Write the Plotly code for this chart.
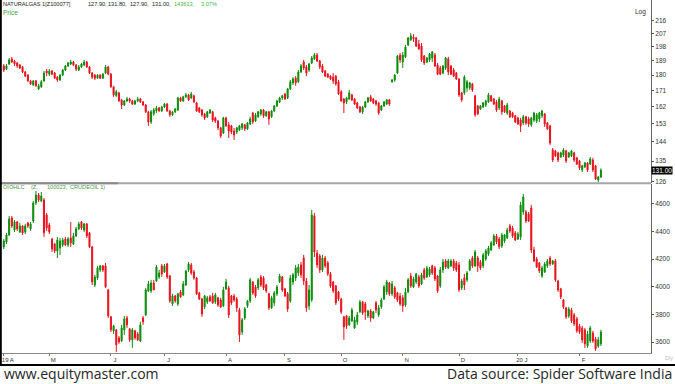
import numpy as np
import pandas as pd
import plotly.graph_objects as go

# ---------------- data ----------------
ng_open = [185.6,183.7,186.8,190.0,188.7,187.5,186.2,185.0,181.9,180.0,
176.5,174.2,176.5,171.9,173.1,176.5,182.5,180.6,182.5,181.3,
178.8,177.1,180.0,183.1,185.6,186.8,188.1,186.2,183.1,185.0,
186.2,188.1,185.0,181.3,180.0,178.2,180.0,178.2,181.3,185.0,
180.6,173.1,168.0,169.6,165.7,162.9,165.1,166.2,165.1,163.4,
165.1,166.2,164.6,162.9,159.2,153.9,158.1,159.7,161.3,159.7,
161.8,163.4,159.7,157.6,159.2,160.2,166.8,165.1,167.4,168.5,
166.8,168.0,164.0,161.3,160.2,158.1,156.6,158.6,159.2,156.0,
154.4,150.9,148.3,156.0,152.4,151.9,149.3,148.8,149.8,150.9,
152.4,150.4,152.9,158.6,154.4,156.6,158.1,160.2,157.1,159.2,
156.6,159.7,162.4,164.6,166.8,169.0,166.8,171.9,175.4,178.2,
176.0,181.9,188.1,185.0,183.1,187.5,190.0,192.5,188.7,185.6,
182.5,180.6,179.4,178.8,179.4,176.0,170.2,166.2,164.6,166.2,
168.5,166.2,164.0,161.8,159.2,161.8,164.6,167.4,166.2,165.1,
164.0,160.2,162.4,163.4,165.7,176.0,177.1,181.3,192.5,188.1,
191.3,199.1,202.5,204.5,203.8,199.8,198.4,191.9,188.1,189.4,
190.6,192.5,186.2,184.4,181.3,184.4,190.0,185.6,183.1,181.3,
177.7,169.6,169.6,172.5,172.5,174.8,168.0,162.4,160.7,161.8,
162.9,164.6,168.0,166.2,164.6,161.3,165.1,162.4,158.6,159.7,
158.6,157.1,156.0,154.9,153.4,156.6,155.5,152.4,154.9,154.4,
155.5,157.1,158.1,153.4,151.9,140.2,139.7,138.8,136.9,137.8,
139.7,136.9,137.4,138.8,136.5,135.1,131.1,132.4,134.2,133.7,
135.5,132.9,126.8,127.9]
ng_high = [186.8,186.8,190.6,191.3,189.4,188.1,186.8,185.6,182.5,180.6,
177.1,177.1,177.1,174.8,177.1,182.5,183.7,183.7,183.1,181.9,
179.4,180.6,183.7,186.2,188.1,189.4,188.7,186.8,186.2,187.5,
189.4,188.7,185.6,181.9,180.6,180.6,180.6,181.3,186.2,185.6,
181.3,173.7,171.3,170.2,166.2,165.7,167.4,166.8,165.7,165.7,
167.4,166.8,165.1,163.4,159.7,160.2,161.3,162.4,161.8,162.4,
164.0,164.0,160.2,159.7,161.3,167.4,167.4,168.0,169.6,169.0,
170.2,168.5,164.6,161.8,160.7,158.6,159.7,160.7,159.7,156.6,
154.9,151.4,156.6,156.6,153.9,152.4,150.9,151.4,152.4,153.4,
152.9,153.9,156.6,159.2,158.6,159.7,160.7,160.7,159.7,159.7,
160.2,162.9,165.7,167.4,168.5,169.6,172.5,177.1,178.8,179.4,
183.1,186.8,189.4,186.2,187.5,191.9,193.8,193.8,189.4,186.8,
183.1,181.3,180.0,181.3,180.0,177.1,171.3,166.8,167.4,171.3,
169.0,166.8,164.6,162.4,162.4,165.1,167.4,168.5,166.8,165.7,
164.6,162.9,165.1,166.2,166.2,177.7,180.6,192.5,193.8,194.5,
199.1,204.5,207.2,206.5,204.5,202.5,200.4,192.5,191.3,193.8,
195.1,193.8,187.5,185.6,186.2,191.3,191.3,186.2,184.4,181.9,
178.2,170.2,180.0,177.1,176.0,175.4,168.5,162.9,162.9,164.6,
165.7,169.6,168.5,166.8,165.7,167.4,165.7,162.9,164.0,160.2,
159.2,157.6,156.6,156.0,157.6,157.1,156.6,156.6,159.2,158.6,
159.2,160.2,158.6,153.9,152.4,141.1,140.2,139.3,139.3,141.1,
140.2,139.3,140.2,139.3,136.9,135.5,133.3,134.6,134.6,136.9,
136.5,133.3,128.5,131.8]
ng_low = [181.9,183.1,186.2,187.5,185.6,184.4,183.7,181.3,178.8,176.0,
174.2,173.7,173.1,171.3,172.5,176.0,179.4,179.4,180.0,177.7,
176.0,176.5,179.4,182.5,185.0,186.2,185.6,182.5,182.5,184.4,
185.6,184.4,180.6,177.7,177.1,177.7,177.7,177.7,180.6,180.0,
172.5,167.4,167.4,164.6,160.7,162.4,164.6,164.0,162.9,162.9,
164.6,164.0,162.4,158.6,151.9,152.9,157.1,158.6,159.2,159.2,
161.3,159.2,156.6,157.1,158.6,159.7,164.6,164.6,166.8,165.1,
166.2,164.0,159.2,158.6,156.6,154.9,156.0,158.1,153.9,153.4,
149.8,145.9,147.8,151.4,145.9,147.8,144.9,147.8,149.3,149.8,
149.3,149.8,152.4,152.9,153.9,156.0,157.1,156.0,156.6,152.4,
156.0,159.2,161.8,164.0,165.7,165.7,166.2,171.3,174.2,173.7,
175.4,181.3,183.1,179.4,181.9,186.8,189.4,188.1,183.7,181.3,
178.8,178.2,177.1,174.8,173.7,168.5,164.6,158.6,163.4,165.7,
165.1,162.9,160.7,158.6,158.1,161.3,164.0,164.6,163.4,162.4,
157.6,159.7,161.8,162.9,162.4,175.4,176.0,180.6,187.5,184.4,
190.6,198.4,201.8,201.1,197.8,195.8,188.1,186.2,187.5,188.1,
188.1,185.0,180.0,180.0,180.6,183.1,180.0,180.0,178.8,177.1,
167.4,164.6,168.5,170.2,171.3,170.2,156.6,157.6,160.2,161.3,
161.8,164.0,164.6,162.9,159.2,160.2,157.6,158.6,157.6,156.0,
156.0,153.4,152.4,148.8,152.4,152.4,151.4,151.4,153.9,153.4,
153.9,156.0,151.4,149.8,142.5,134.6,136.9,134.6,136.5,136.9,
134.2,136.5,136.9,134.6,133.3,131.1,130.2,132.0,130.2,133.3,
130.2,126.8,125.9,127.9]
ng_close = [183.1,185.6,189.4,188.1,186.8,185.6,184.4,181.9,179.4,176.5,
174.8,176.5,173.7,173.7,176.0,181.3,181.3,182.5,180.6,178.2,
177.1,180.0,183.1,185.6,187.5,188.1,186.2,183.7,185.0,186.8,
188.1,185.0,181.3,178.8,178.2,180.0,178.2,180.6,185.0,180.6,
173.1,168.5,170.2,165.1,162.9,165.1,166.2,165.1,163.4,165.1,
166.2,164.6,162.9,159.2,153.9,159.2,160.2,161.3,159.7,161.8,
163.4,159.7,157.6,159.2,160.7,166.8,165.1,167.4,168.5,165.7,
169.0,164.6,159.7,159.2,157.6,156.0,159.2,160.2,154.9,154.4,
150.9,146.8,156.0,151.9,149.3,148.8,147.3,150.9,151.9,152.9,
150.4,153.4,155.5,153.9,157.6,159.2,160.2,157.1,159.2,155.5,
159.7,162.4,165.1,166.8,168.0,166.2,171.9,176.0,177.7,175.4,
181.9,185.6,184.4,181.3,186.8,190.6,192.5,188.7,185.0,181.9,
179.4,178.8,177.7,176.5,174.8,169.0,165.1,164.0,166.8,169.6,
165.7,163.4,161.3,159.2,161.8,164.6,166.8,165.1,164.0,163.4,
158.6,162.4,164.6,165.7,163.4,177.1,180.0,191.9,189.4,192.5,
197.8,203.8,205.2,203.2,198.4,196.5,189.4,187.5,190.6,193.1,
194.5,185.6,180.6,180.6,185.6,190.6,181.9,180.6,179.4,177.7,
168.5,165.7,178.8,176.0,175.4,171.3,157.6,158.1,162.4,164.0,
165.1,168.5,165.1,163.4,160.2,166.2,159.2,159.2,162.9,156.6,
156.6,153.9,152.9,151.9,156.6,153.4,152.9,156.0,158.6,157.6,
158.6,159.7,152.9,150.4,143.4,135.5,137.4,135.5,138.8,140.2,
135.1,138.8,139.7,135.5,133.7,132.0,132.9,134.2,131.1,136.0,
131.1,127.2,128.0,131.0]

crude_open = [4288,4324,4374,4497,4410,4468,4396,4439,4396,4461,
4418,4475,4605,4663,4620,4627,4519,4446,4345,4309,
4259,4280,4302,4345,4302,4353,4309,4367,4418,4468,
4410,4454,4389,4288,4013,4064,4122,4151,4151,3977,
3783,3682,3689,3631,3609,3689,3775,3696,3617,3682,
3660,3609,3775,3797,3970,3970,4028,4042,4071,4151,
4107,4165,4078,3876,3934,3876,3963,3941,4013,4122,
4158,4107,4064,3956,3912,3855,3891,3927,3934,3891,
3920,3905,3862,3985,3992,3934,3934,3912,3833,3674,
3775,3862,3898,4035,3999,3992,4071,4064,4013,3949,
3848,3884,3949,4035,4071,3985,3949,3898,4035,4064,
4100,4158,4208,4042,3862,3905,4511,4244,4223,4122,
4208,4172,4093,4035,4006,3963,3912,3783,3790,3725,
3754,3703,3747,3819,3891,3876,3790,3826,3775,3884,
3797,3855,3912,3963,4028,3949,3992,3956,3934,3920,
3869,3963,4078,3999,4035,4071,4021,4122,4071,4086,
4151,4136,4078,4006,4122,4187,4136,4151,4187,4172,
4158,3992,4064,4050,4122,4208,4151,4208,4179,4151,
4201,4237,4266,4302,4367,4345,4295,4331,4353,4439,
4425,4389,4345,4360,4540,4540,4526,4569,4266,4201,
4172,4078,4107,4151,4208,4165,4187,4042,3985,3905,
3848,3790,3833,3797,3768,3718,3703,3689,3573,3609,
3667,3624,3573,3588]
crude_high = [4345,4389,4511,4511,4482,4475,4461,4446,4454,4468,
4468,4620,4692,4677,4684,4641,4533,4461,4353,4317,
4360,4353,4353,4360,4360,4468,4389,4432,4468,4475,
4461,4461,4396,4295,4086,4151,4158,4158,4172,3985,
3790,3725,3696,3645,3725,3790,3790,3703,3703,3689,
3674,3747,3790,3992,4042,4050,4050,4158,4122,4165,
4165,4172,4086,3949,3941,3956,3977,4042,4122,4179,
4172,4122,4071,3963,3920,3941,3934,3941,3956,3956,
3927,3920,3999,4057,4006,3941,3949,3927,3848,3775,
3855,3905,4064,4042,4013,4064,4086,4078,4021,3956,
3934,3970,4013,4093,4078,3992,3963,4086,4100,4158,
4165,4179,4230,4064,4013,4555,4533,4266,4237,4230,
4223,4187,4107,4042,4013,3970,3920,3790,3797,3790,
3848,3783,3819,3905,3898,3891,3833,3840,3826,3898,
3869,3920,4013,4050,4035,4042,4006,3963,3956,3941,
3992,4064,4100,4071,4100,4086,4100,4136,4151,4143,
4158,4151,4086,4143,4201,4201,4201,4201,4201,4187,
4179,4057,4093,4114,4201,4223,4266,4223,4194,4244,
4273,4295,4331,4381,4381,4360,4389,4381,4425,4454,
4439,4403,4396,4612,4670,4555,4540,4591,4288,4215,
4179,4151,4179,4201,4223,4194,4201,4050,3992,3912,
3855,3855,3848,3811,3783,3732,3718,3703,3682,3718,
3682,3638,3638,3689]
crude_low = [4273,4309,4367,4425,4396,4403,4389,4374,4381,4425,
4403,4461,4591,4612,4612,4360,4403,4381,4252,4244,
4208,4230,4288,4295,4288,4288,4302,4360,4410,4410,
4396,4353,4280,4013,3999,4050,4107,4107,3992,3775,
3674,3660,3530,3588,3602,3653,3703,3602,3559,3617,
3609,3602,3725,3790,3963,3956,3977,4035,4057,4071,
4100,4057,3884,3862,3884,3862,3920,3934,4006,4107,
4086,4050,3941,3905,3783,3840,3876,3891,3876,3876,
3855,3848,3855,3977,3775,3869,3891,3819,3602,3653,
3761,3848,3884,3941,3920,3977,3999,3977,3956,3833,
3840,3862,3934,4028,3963,3927,3819,3884,4013,4042,
4078,4064,4013,3819,3833,3891,4215,4136,4100,4107,
4136,4078,3992,3956,3869,3898,3804,3617,3696,3718,
3747,3696,3725,3811,3797,3761,3775,3747,3768,3811,
3783,3840,3905,3941,3934,3934,3912,3891,3862,3819,
3855,3956,3992,3992,4021,3992,4013,4050,4064,4071,
4086,4042,3956,3992,4100,4129,4129,4143,4114,4107,
3963,3977,3977,4035,4114,4136,4143,4107,4122,4136,
4187,4223,4259,4295,4309,4273,4280,4317,4345,4389,
4353,4331,4338,4338,4519,4461,4468,4244,4179,4136,
4100,4064,4100,4136,4151,4158,4035,3963,3912,3840,
3768,3775,3739,3718,3667,3660,3595,3559,3559,3595,
3595,3537,3559,3573]
crude_close = [4331,4374,4490,4439,4468,4418,4439,4389,4439,4439,
4454,4605,4663,4627,4656,4389,4425,4396,4273,4259,
4338,4331,4338,4302,4345,4317,4367,4418,4454,4425,
4454,4367,4288,4035,4071,4136,4151,4122,3999,3790,
3689,3718,3581,3602,3703,3768,3725,3617,3689,3631,
3617,3725,3747,3977,4021,4028,3977,4143,4100,4093,
4151,4071,3898,3934,3898,3949,3927,4021,4114,4165,
4100,4064,3949,3912,3804,3934,3920,3898,3884,3941,
3869,3855,3977,4035,3797,3884,3905,3848,3653,3761,
3840,3898,4050,3956,3934,4050,4013,3992,3970,3848,
3920,3956,3999,4078,3977,3934,3840,4064,4086,4136,
4143,4086,4042,3848,3977,4519,4252,4158,4122,4208,
4151,4093,4006,3970,3884,3912,3819,3710,3718,3775,
3833,3761,3797,3891,3811,3819,3826,3775,3819,3833,
3848,3905,3999,4035,3949,4021,3927,3905,3876,3862,
3963,4050,4006,4057,4093,4006,4086,4064,4136,4129,
4100,4057,3970,4122,4179,4143,4187,4187,4136,4122,
3977,4042,4013,4100,4187,4151,4252,4151,4136,4230,
4259,4280,4317,4367,4324,4288,4374,4374,4410,4403,
4367,4338,4381,4591,4648,4475,4475,4266,4187,4143,
4114,4136,4165,4187,4165,4187,4050,3977,3927,3855,
3783,3840,3754,3732,3682,3674,3617,3588,3660,3703,
3609,3552,3617,3674]

month_labels = ["19 A", "M", "J", "J", "A", "S", "O", "N", "D", "20 J", "F"]
price_ticks = [126, 135, 144, 153, 162, 171, 180, 189, 198, 207, 216]
crude_ticks = [3600, 3800, 4000, 4200, 4400, 4600]
header_values = ["127.90,", "131.80,", "127.90,", "131.00,"]
header_green = ["143613,", "3.07%"]
last_price = 131.00

# ---------------- figure ----------------
N = len(ng_close)
dates = pd.bdate_range("2019-04-08", periods=N)
x = np.arange(N)
tick_idx = [0] + [i for i in range(1, N) if dates[i].month != dates[i - 1].month]

GREEN = "#0a8c0a"
RED = "#e8121c"
W, H = 675, 384
ML, MR, MT, MB = 0, 24, 0, 20
PW, PH = W - ML - MR, H - MT - MB


def xp(px):
    return (px - ML) / PW


def yp(py):
    return (H - MB - py) / PH


def candle(o, h, l, c, xa, ya):
    return go.Candlestick(
        x=x, open=o, high=h, low=l, close=c, xaxis=xa, yaxis=ya,
        increasing=dict(line=dict(color=GREEN, width=1), fillcolor=GREEN),
        decreasing=dict(line=dict(color=RED, width=1), fillcolor=RED),
        whiskerwidth=0, hoverinfo="skip", showlegend=False)


fig = go.Figure()
fig.add_trace(candle(ng_open, ng_high, ng_low, ng_close, "x", "y"))
fig.add_trace(candle(crude_open, crude_high, crude_low, crude_close, "x2", "y2"))

xr = [-1.42, N - 1 + 18.7]
tickfont = dict(family="Liberation Sans", size=6.5, color="#333333")
xtickfont = dict(family="Liberation Sans", size=6, color="#333333")

fig.update_layout(
    width=W, height=H,
    margin=dict(l=ML, r=MR, t=MT, b=MB),
    paper_bgcolor="white", plot_bgcolor="white",
    hovermode=False, boxgap=0.45,
    xaxis=dict(domain=[0, 1], anchor="y", range=xr, showticklabels=False,
               ticks="", showgrid=False, zeroline=False,
               rangeslider=dict(visible=False)),
    xaxis2=dict(domain=[0, 1], anchor="y2", range=xr, matches="x",
                tickvals=tick_idx, ticktext=month_labels, tickfont=xtickfont,
                ticks="outside", ticklen=2, tickcolor="#777777",
                ticklabelshift=4, ticklabelstandoff=-1,
                showline=True, linecolor="#888888",
                linewidth=1, showgrid=False, zeroline=False,
                rangeslider=dict(visible=False)),
    yaxis=dict(domain=[yp(182.5), 1], anchor="x", side="right", type="log",
               range=[np.log10(125.7), np.log10(231.4)],
               tickvals=price_ticks, ticktext=[str(v) for v in price_ticks],
               tickfont=tickfont, ticks="outside", ticklen=2,
               tickcolor="#555555", showline=True, linecolor="#666666",
               showgrid=False, zeroline=False),
    yaxis2=dict(domain=[yp(353), yp(184)], anchor="x2", side="right",
                range=[3522, 4742], tickvals=crude_ticks,
                ticktext=[str(v) for v in crude_ticks],
                tickfont=tickfont, ticks="outside", ticklen=2,
                tickcolor="#555555", showline=True, linecolor="#666666",
                showgrid=False, zeroline=False),
)

shapes = [
    dict(type="line", xref="paper", yref="paper", x0=xp(0), x1=xp(651),
         y0=yp(183.2), y1=yp(183.2), line=dict(color="#a6a6a6", width=2)),
    dict(type="line", xref="paper", yref="paper", x0=xp(0), x1=xp(118),
         y0=yp(183.2), y1=yp(183.2), line=dict(color="#8a8a8a", width=2)),
    dict(type="line", xref="paper", yref="paper", x0=xp(0), x1=xp(W),
         y0=yp(365), y1=yp(365), line=dict(color="black", width=2)),
    dict(type="line", xref="paper", yref="paper", x0=xp(0.8), x1=xp(0.8),
         y0=yp(0), y1=yp(365), line=dict(color="black", width=2)),
]
fig.update_layout(shapes=shapes)

ann = []


def txt(s, px, py, color="#222222", size=5.6, anchor="left", family="Liberation Sans", **kw):
    ann.append(dict(text=s, x=xp(px), y=yp(py), xref="paper", yref="paper",
                    xanchor=anchor, yanchor="middle", showarrow=False,
                    font=dict(family=family, size=size, color=color), **kw))


txt("NATURALGAS 1[Z100077]", 1, 4.5)
for s, px in zip(header_values, [86, 106, 128, 150]):
    txt(s, px, 4.5)
for s, px in zip(header_green, [172, 199]):
    txt(s, px, 4.5, color="#3cb83c")
txt("Price", 1, 13, color="#3c9c3c", size=6.5)
txt("Log", 633, 12, color="#333333", size=6.5)
for s, px in zip(["OIOHLC", "(Z,", "100023,", "CRUDEOIL 1)"], [1, 29, 45, 68]):
    txt(s, px, 187.5, color="#4a9a4a", size=5.6)
txt("Dly", 663, 358, color="#bbbbbb", size=5.5)
ann.append(dict(text=f"{last_price:.2f}", x=xp(651), y=np.log10(last_price),
                xref="paper", yref="y", xanchor="left", yanchor="middle",
                showarrow=False, bgcolor="black", borderpad=0,
                font=dict(family="Liberation Sans", size=6.5, color="white")))
txt("www.equitymaster.com", 3, 374, color="#262626", size=14, family="Open Sans",
    borderpad=0)
txt("Data source: Spider Software India", 673, 374, color="#262626", size=14,
    anchor="right", family="Open Sans", borderpad=0)
fig.update_layout(annotations=ann)

fig.write_html("out.html", config={"displayModeBar": False},
               post_script="document.body.style.margin='0';")
